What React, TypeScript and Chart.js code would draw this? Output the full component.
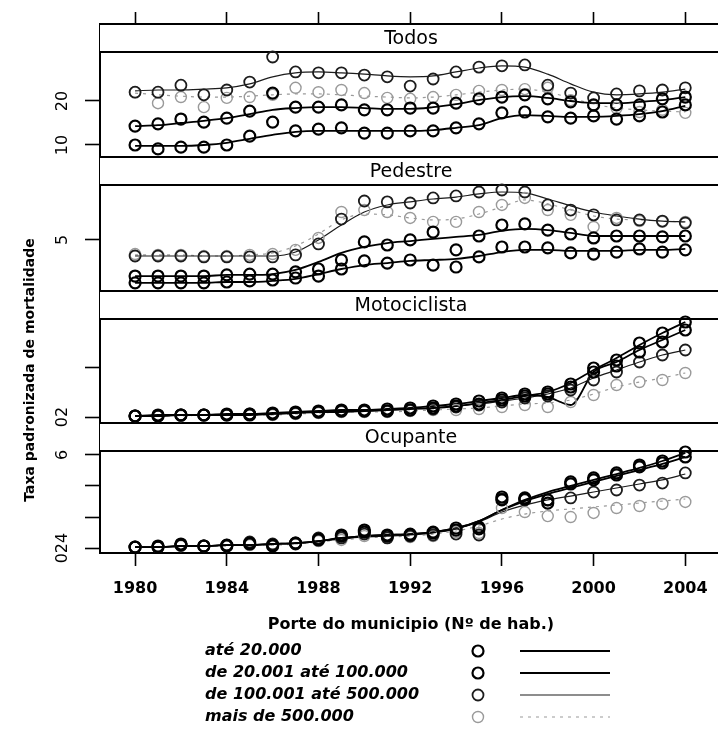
import React, { useEffect, useRef } from 'react';
import { Chart, registerables } from 'chart.js';

Chart.register(...registerables);

// ---------- data ----------
const YEARS = [
  1980, 1981, 1982, 1983, 1984, 1985, 1986, 1987, 1988, 1989, 1990, 1991, 1992,
  1993, 1994, 1995, 1996, 1997, 1998, 1999, 2000, 2001, 2002, 2003, 2004,
];
const X_TICKS = [1980, 1984, 1988, 1992, 1996, 2000, 2004];

const PANEL_TITLES = ['Todos', 'Pedestre', 'Motociclista', 'Ocupante'];
const GROUPS = ['até 20.000', 'de 20.001 até 100.000', 'de 100.001 até 500.000', 'mais de 500.000'];
const LEGEND_TITLE = 'Porte do municipio (Nº de hab.)';
const Y_TITLE = 'Taxa padronizada de mortalidade';

// Todos: yearly rates (obs) and smoothed trend (fit)
const todosObs1 = [10.0, 9.1, 9.5, 9.5, 10.0, 12.0, 15.2, 13.2, 13.6, 13.9, 12.7, 12.7, 13.2, 13.2, 13.9, 14.8, 17.3, 17.5, 16.4, 16.1, 16.6, 15.9, 16.6, 17.5, 19.1];
const todosFit1 = [9.8, 9.8, 9.8, 10.0, 10.5, 11.4, 12.3, 13.0, 13.2, 13.2, 13.2, 13.2, 13.2, 13.4, 13.9, 14.5, 16.1, 16.8, 16.6, 16.4, 16.4, 16.6, 17.0, 17.7, 18.9];
const todosObs2 = [14.3, 14.8, 15.9, 15.2, 16.1, 17.7, 21.8, 18.6, 18.6, 19.1, 18.0, 18.0, 18.4, 18.4, 19.5, 20.5, 20.9, 21.4, 20.5, 19.8, 19.1, 19.1, 19.1, 20.5, 20.9];
const todosFit2 = [14.3, 14.5, 15.0, 15.5, 16.1, 17.0, 18.0, 18.4, 18.6, 18.6, 18.4, 18.2, 18.2, 18.6, 19.3, 20.2, 20.9, 21.1, 20.7, 20.0, 19.5, 19.5, 19.8, 20.2, 20.9];
const todosObs3 = [22.0, 22.0, 23.6, 21.4, 22.5, 24.3, 30.0, 26.6, 26.4, 26.4, 25.9, 25.5, 23.4, 25.0, 26.6, 27.7, 28.0, 28.2, 23.6, 21.8, 20.7, 21.6, 22.3, 22.5, 23.0];
const todosFit3 = [22.3, 22.5, 22.5, 22.7, 23.0, 23.9, 25.5, 26.4, 26.6, 26.4, 26.1, 25.7, 25.5, 25.7, 26.6, 27.5, 28.0, 27.7, 26.1, 23.9, 22.0, 21.4, 21.6, 22.0, 22.7];
const todosObs4 = [22.0, 19.5, 20.9, 18.6, 20.7, 20.9, 21.4, 23.0, 22.0, 22.5, 21.8, 20.7, 20.5, 20.9, 21.4, 22.3, 22.5, 22.7, 23.0, 20.2, 18.9, 18.4, 17.5, 18.0, 17.3];
const todosFit4 = [21.8, 21.4, 21.1, 20.9, 20.9, 21.1, 21.4, 21.6, 21.6, 21.4, 21.1, 20.9, 20.7, 20.9, 21.4, 22.0, 22.5, 22.7, 22.0, 20.7, 19.3, 18.4, 18.0, 17.7, 17.5];

// Pedestre
const pedObs1 = [3.05, 3.05, 3.05, 3.05, 3.09, 3.14, 3.18, 3.27, 3.36, 3.68, 4.05, 3.95, 4.09, 3.86, 3.77, 4.23, 4.68, 4.68, 4.64, 4.41, 4.36, 4.45, 4.59, 4.45, 4.55];
const pedFit1 = [3.05, 3.05, 3.05, 3.05, 3.09, 3.09, 3.14, 3.23, 3.45, 3.68, 3.86, 3.95, 4.05, 4.09, 4.14, 4.27, 4.45, 4.55, 4.55, 4.5, 4.5, 4.5, 4.55, 4.55, 4.59];
const pedObs2 = [3.36, 3.36, 3.36, 3.36, 3.41, 3.45, 3.45, 3.55, 3.68, 4.09, 4.91, 4.77, 5.0, 5.36, 4.55, 5.18, 5.68, 5.73, 5.45, 5.27, 5.09, 5.18, 5.18, 5.14, 5.18];
const pedFit2 = [3.36, 3.36, 3.36, 3.36, 3.41, 3.41, 3.45, 3.64, 4.0, 4.41, 4.68, 4.86, 4.95, 5.05, 5.14, 5.23, 5.41, 5.5, 5.45, 5.32, 5.18, 5.18, 5.18, 5.18, 5.18];
const pedObs3 = [4.27, 4.27, 4.27, 4.23, 4.23, 4.23, 4.23, 4.32, 4.82, 5.95, 6.77, 6.73, 6.68, 6.91, 7.0, 7.18, 7.27, 7.18, 6.59, 6.36, 6.14, 5.91, 5.91, 5.86, 5.77];
const pedFit3 = [4.27, 4.27, 4.27, 4.27, 4.27, 4.27, 4.27, 4.45, 5.0, 5.68, 6.27, 6.59, 6.73, 6.86, 6.95, 7.09, 7.18, 7.14, 6.86, 6.55, 6.27, 6.09, 5.95, 5.86, 5.82];
const pedObs4 = [4.36, 4.32, 4.32, 4.27, 4.27, 4.32, 4.36, 4.55, 5.09, 6.27, 6.36, 6.27, 6.0, 5.82, 5.82, 6.27, 6.59, 6.91, 6.36, 6.14, 5.59, 6.0, 5.86, 5.82, 5.82];
const pedFit4 = [4.32, 4.32, 4.32, 4.27, 4.27, 4.32, 4.41, 4.73, 5.27, 5.91, 6.18, 6.14, 6.0, 5.91, 5.95, 6.18, 6.5, 6.82, 6.64, 6.36, 6.09, 5.95, 5.91, 5.86, 5.82];

// Motociclista
const motoObs1 = [0.1, 0.1, 0.2, 0.2, 0.2, 0.2, 0.3, 0.4, 0.5, 0.6, 0.6, 0.6, 0.7, 0.9, 1.1, 1.3, 1.7, 2.1, 2.3, 3.3, 4.9, 5.7, 7.4, 8.4, 9.5];
const motoFit1 = [0.1, 0.1, 0.2, 0.2, 0.2, 0.2, 0.3, 0.4, 0.5, 0.5, 0.6, 0.7, 0.8, 0.9, 1.1, 1.4, 1.7, 2.1, 2.5, 3.4, 4.7, 5.9, 7.2, 8.4, 9.5];
const motoObs2 = [0.1, 0.2, 0.2, 0.2, 0.3, 0.3, 0.4, 0.5, 0.6, 0.7, 0.7, 0.8, 0.9, 1.1, 1.3, 1.6, 1.9, 2.3, 2.5, 3.0, 4.5, 5.1, 6.5, 7.5, 8.7];
const motoFit2 = [0.1, 0.2, 0.2, 0.2, 0.3, 0.3, 0.4, 0.5, 0.6, 0.7, 0.7, 0.8, 0.9, 1.1, 1.3, 1.6, 1.9, 2.2, 2.0, 1.2, 4.5, 5.5, 6.7, 7.7, 8.7];
const motoObs3 = [0.1, 0.1, 0.2, 0.2, 0.2, 0.3, 0.3, 0.4, 0.5, 0.6, 0.6, 0.6, 0.7, 0.8, 1.0, 1.2, 1.5, 1.9, 2.1, 2.7, 3.7, 4.5, 5.5, 6.2, 6.7];
const motoFit3 = [0.1, 0.1, 0.2, 0.2, 0.2, 0.3, 0.3, 0.4, 0.5, 0.6, 0.6, 0.7, 0.8, 0.9, 1.1, 1.3, 1.6, 1.9, 2.3, 2.9, 3.9, 4.7, 5.5, 6.2, 6.7];
const motoObs4 = [0.1, 0.1, 0.1, 0.2, 0.2, 0.2, 0.2, 0.3, 0.4, 0.5, 0.5, 0.5, 0.6, 0.7, 0.7, 0.8, 1.0, 1.2, 1.0, 1.5, 2.2, 3.2, 3.5, 3.7, 4.4];
const motoFit4 = [0.1, 0.1, 0.1, 0.2, 0.2, 0.2, 0.2, 0.3, 0.4, 0.5, 0.5, 0.5, 0.6, 0.7, 0.8, 0.9, 1.1, 1.3, 1.4, 1.7, 2.3, 3.0, 3.5, 3.9, 4.4];

// Ocupante
const ocuObs1 = [0.06, 0.06, 0.26, 0.13, 0.19, 0.32, 0.13, 0.32, 0.58, 0.77, 1.16, 0.84, 0.84, 1.03, 1.29, 1.35, 3.29, 3.23, 3.1, 4.26, 4.52, 4.84, 5.35, 5.61, 6.19];
const ocuFit1 = [0.06, 0.06, 0.13, 0.13, 0.19, 0.19, 0.26, 0.32, 0.45, 0.65, 0.77, 0.84, 0.9, 1.03, 1.29, 1.74, 2.45, 3.1, 3.61, 4.0, 4.39, 4.77, 5.16, 5.61, 6.13];
const ocuObs2 = [0.06, 0.13, 0.19, 0.13, 0.13, 0.26, 0.19, 0.32, 0.52, 0.84, 1.03, 0.77, 0.9, 0.97, 1.16, 1.23, 3.1, 3.16, 2.9, 4.13, 4.39, 4.71, 5.23, 5.48, 5.87];
const ocuFit2 = [0.06, 0.06, 0.13, 0.13, 0.19, 0.19, 0.26, 0.32, 0.45, 0.65, 0.77, 0.84, 0.9, 1.03, 1.29, 1.74, 2.45, 3.03, 3.48, 3.87, 4.26, 4.65, 5.03, 5.42, 5.87];
const ocuObs3 = [0.06, 0.06, 0.19, 0.13, 0.19, 0.39, 0.26, 0.26, 0.65, 0.65, 0.9, 0.65, 0.77, 0.84, 0.9, 0.84, 3.16, 3.1, 3.1, 3.23, 3.61, 3.74, 4.06, 4.19, 4.84];
const ocuFit3 = [0.06, 0.06, 0.13, 0.13, 0.19, 0.19, 0.26, 0.32, 0.45, 0.58, 0.71, 0.77, 0.84, 0.97, 1.23, 1.68, 2.32, 2.77, 3.1, 3.35, 3.61, 3.87, 4.13, 4.39, 4.77];
const ocuObs4 = [0.06, 0.06, 0.13, 0.13, 0.13, 0.19, 0.19, 0.26, 0.45, 0.52, 0.77, 0.65, 0.71, 0.77, 1.03, 0.97, 2.58, 2.32, 2.06, 2.0, 2.26, 2.58, 2.71, 2.84, 2.97];
const ocuFit4 = [0.06, 0.06, 0.13, 0.13, 0.13, 0.19, 0.19, 0.26, 0.39, 0.52, 0.65, 0.71, 0.77, 0.9, 1.1, 1.42, 1.87, 2.19, 2.39, 2.52, 2.65, 2.77, 2.9, 3.03, 3.16];

// y-axis ticks per panel
const TODOS_TICKS = [10, 20];
const TODOS_TICK_LABELS = ['10', '20'];
const PED_TICKS = [5];
const PED_TICK_LABELS = ['5'];
const MOTO_TICKS = [0, 5];
const MOTO_TICK_LABELS = ['02', ''];
const OCU_TICKS = [0, 2, 4, 6];
const OCU_TICK_LABELS = ['024', '', '', '6'];

// ---------- layout & styles ----------
const FONT = "'DejaVu Sans', sans-serif";
const STRIP_H = 28;

const PANELS = [
  { id: 'yTodos', title: PANEL_TITLES[0], obs: [todosObs1, todosObs2, todosObs3, todosObs4], fit: [todosFit1, todosFit2, todosFit3, todosFit4], ticks: TODOS_TICKS, labels: TODOS_TICK_LABELS, min: 7.27, max: 37.5, stackWeight: 133, weight: 4, pad: 12 },
  { id: 'yPed', title: PANEL_TITLES[1], obs: [pedObs1, pedObs2, pedObs3, pedObs4], fit: [pedFit1, pedFit2, pedFit3, pedFit4], ticks: PED_TICKS, labels: PED_TICK_LABELS, min: 2.68, max: 8.77, stackWeight: 134, weight: 3, pad: 17 },
  { id: 'yMoto', title: PANEL_TITLES[2], obs: [motoObs1, motoObs2, motoObs3, motoObs4], fit: [motoFit1, motoFit2, motoFit3, motoFit4], ticks: MOTO_TICKS, labels: MOTO_TICK_LABELS, min: -0.6, max: 12.6, stackWeight: 132, weight: 2, pad: 12 },
  { id: 'yOcu', title: PANEL_TITLES[3], obs: [ocuObs1, ocuObs2, ocuObs3, ocuObs4], fit: [ocuFit1, ocuFit2, ocuFit3, ocuFit4], ticks: OCU_TICKS, labels: OCU_TICK_LABELS, min: -0.32, max: 8.06, stackWeight: 130, weight: 1, pad: 7 },
];

const SERIES_STYLE = [
  { color: '#000000', line: 1.8, point: 2.2, dash: [] as number[], radius: 5.5 },
  { color: '#000000', line: 1.8, point: 2.2, dash: [] as number[], radius: 5.5 },
  { color: '#1c1c1c', line: 1.2, point: 1.8, dash: [] as number[], radius: 5.5 },
  { color: '#9a9a9a', line: 1.2, point: 1.4, dash: [3, 5], radius: 5.5 },
];

function buildDatasets() {
  const sets: any[] = [];
  PANELS.forEach((panel) => {
    panel.obs.forEach((values, s) => {
      const st = SERIES_STYLE[s];
      sets.push({
        label: `${panel.title} – ${GROUPS[s]}`,
        yAxisID: panel.id,
        data: YEARS.map((year, i) => ({ x: year, y: values[i] })),
        showLine: false,
        pointRadius: st.radius,
        pointHoverRadius: st.radius,
        pointBorderWidth: st.point,
        pointBorderColor: st.color,
        pointBackgroundColor: 'rgba(0,0,0,0)',
      });
    });
    panel.fit.forEach((values, s) => {
      const st = SERIES_STYLE[s];
      sets.push({
        label: `${panel.title} – ${GROUPS[s]} (tendência)`,
        yAxisID: panel.id,
        data: YEARS.map((year, i) => ({ x: year, y: values[i] })),
        borderColor: st.color,
        borderWidth: st.line,
        borderDash: st.dash,
        pointRadius: 0,
        pointHoverRadius: 0,
        fill: false,
        cubicInterpolationMode: 'monotone',
      });
    });
  });
  return sets;
}

function buildYScales() {
  const scales: Record<string, any> = {};
  // bottom panel first; weights put Todos on top of the stack
  [...PANELS].reverse().forEach((panel) => {
    scales[panel.id] = {
      type: 'linear',
      position: 'left',
      stack: 'panels',
      stackWeight: panel.stackWeight,
      weight: panel.weight,
      min: panel.min,
      max: panel.max,
      afterBuildTicks: (scale: any) => {
        scale.ticks = panel.ticks.map((v) => ({ value: v }));
      },
      afterFit: (scale: any) => {
        scale.width = 92;
        scale.paddingTop = 0;
        scale.paddingBottom = 0;
      },
      grid: {
        display: true,
        drawOnChartArea: false,
        drawTicks: true,
        tickLength: 15,
        tickWidth: 1.6,
        tickColor: '#000',
        color: '#000',
      },
      border: { display: true, color: '#000', width: 2 },
      ticks: {
        autoSkip: false,
        minRotation: 90,
        maxRotation: 90,
        crossAlign: 'center',
        padding: panel.pad,
        color: '#000',
        font: { family: FONT, size: 16 },
        callback: (value: number) => {
          const idx = panel.ticks.indexOf(value);
          return idx >= 0 ? panel.labels[idx] : '';
        },
      },
    };
  });
  return scales;
}

const latticePlugin = {
  id: 'latticeStrips',
  beforeDatasetsDraw(chart: any) {
    const { ctx, chartArea } = chart;
    const left = chartArea.left;
    const right = chart.width;
    ctx.save();
    PANELS.forEach((panel) => {
      const sc = chart.scales[panel.id];
      const top = sc.top;
      ctx.fillStyle = '#ffffff';
      ctx.fillRect(left, top, right - left, STRIP_H);
      ctx.strokeStyle = '#000';
      ctx.lineWidth = 2;
      ctx.beginPath();
      ctx.moveTo(left, top);
      ctx.lineTo(right, top);
      ctx.moveTo(left, top + STRIP_H);
      ctx.lineTo(right, top + STRIP_H);
      ctx.stroke();
      ctx.fillStyle = '#000';
      ctx.font = `19px ${FONT}`;
      ctx.textAlign = 'center';
      ctx.textBaseline = 'middle';
      ctx.fillText(panel.title, (left + chartArea.right) / 2, top + STRIP_H / 2 + 1);
    });
    ctx.restore();
  },
  afterDraw(chart: any) {
    const { ctx } = chart;
    ctx.save();
    // y-axis title
    ctx.translate(22, 362);
    ctx.rotate(-Math.PI / 2);
    ctx.fillStyle = '#000';
    ctx.font = `bold 14px ${FONT}`;
    ctx.textAlign = 'center';
    ctx.textBaseline = 'middle';
    ctx.fillText(Y_TITLE, 0, 0);
    ctx.restore();

    // key below the panels
    ctx.save();
    ctx.fillStyle = '#000';
    ctx.font = `bold 16px ${FONT}`;
    ctx.textAlign = 'center';
    ctx.textBaseline = 'middle';
    ctx.fillText(LEGEND_TITLE, 403, 617);
    GROUPS.forEach((name, s) => {
      const st = SERIES_STYLE[s];
      const y = 643 + s * 22;
      ctx.fillStyle = '#000';
      ctx.font = `italic bold 16px ${FONT}`;
      ctx.textAlign = 'left';
      ctx.textBaseline = 'middle';
      ctx.fillText(name, 197, y);
      ctx.strokeStyle = st.color;
      ctx.lineWidth = st.point;
      ctx.setLineDash([]);
      ctx.beginPath();
      ctx.arc(470, y, st.radius, 0, Math.PI * 2);
      ctx.stroke();
      ctx.lineWidth = st.line;
      ctx.setLineDash(st.dash);
      ctx.beginPath();
      ctx.moveTo(512, y);
      ctx.lineTo(602, y);
      ctx.stroke();
    });
    ctx.restore();
  },
};

export default function App() {
  const canvasRef = useRef<HTMLCanvasElement | null>(null);

  useEffect(() => {
    const canvas = canvasRef.current;
    if (!canvas) return;
    const xCommon = {
      type: 'linear',
      min: 1978.47,
      max: 2005.6,
      afterBuildTicks: (scale: any) => {
        scale.ticks = X_TICKS.map((v) => ({ value: v }));
      },
    };
    const chart = new Chart(canvas, {
      type: 'line',
      data: { datasets: buildDatasets() },
      options: {
        responsive: false,
        animation: false,
        events: [],
        layout: { autoPadding: false, padding: { top: 4, left: 0, right: 16, bottom: 133 } },
        plugins: { legend: { display: false }, tooltip: { enabled: false } },
        scales: {
          x: {
            ...xCommon,
            position: 'bottom',
            afterFit: (scale: any) => {
              scale.height = 44;
              scale.paddingLeft = 0;
              scale.paddingRight = 0;
            },
            grid: { display: true, drawOnChartArea: false, tickLength: 13, tickWidth: 1.6, tickColor: '#000', color: '#000' },
            border: { display: true, color: '#000', width: 2 },
            ticks: {
              autoSkip: false,
              maxRotation: 0,
              padding: 13,
              color: '#000',
              font: { family: FONT, size: 16, weight: 'bold' },
              callback: (value: number) => String(value),
            },
          },
          xTop: {
            ...xCommon,
            position: 'top',
            afterFit: (scale: any) => {
              scale.height = 12;
              scale.paddingLeft = 0;
              scale.paddingRight = 0;
            },
            grid: { display: true, drawOnChartArea: false, tickLength: 12, tickWidth: 1.6, tickColor: '#000', color: '#000' },
            border: { display: true, color: '#000', width: 2 },
            ticks: { display: false },
          },
          ...buildYScales(),
        },
      } as any,
      plugins: [latticePlugin],
    });
    return () => chart.destroy();
  }, []);

  return (
    <div style={{ position: 'fixed', left: 8, top: 8, width: 710, height: 722, overflow: 'hidden', background: '#fff' }}>
      <canvas ref={canvasRef} width={730} height={722} style={{ display: 'block' }} />
    </div>
  );
}
